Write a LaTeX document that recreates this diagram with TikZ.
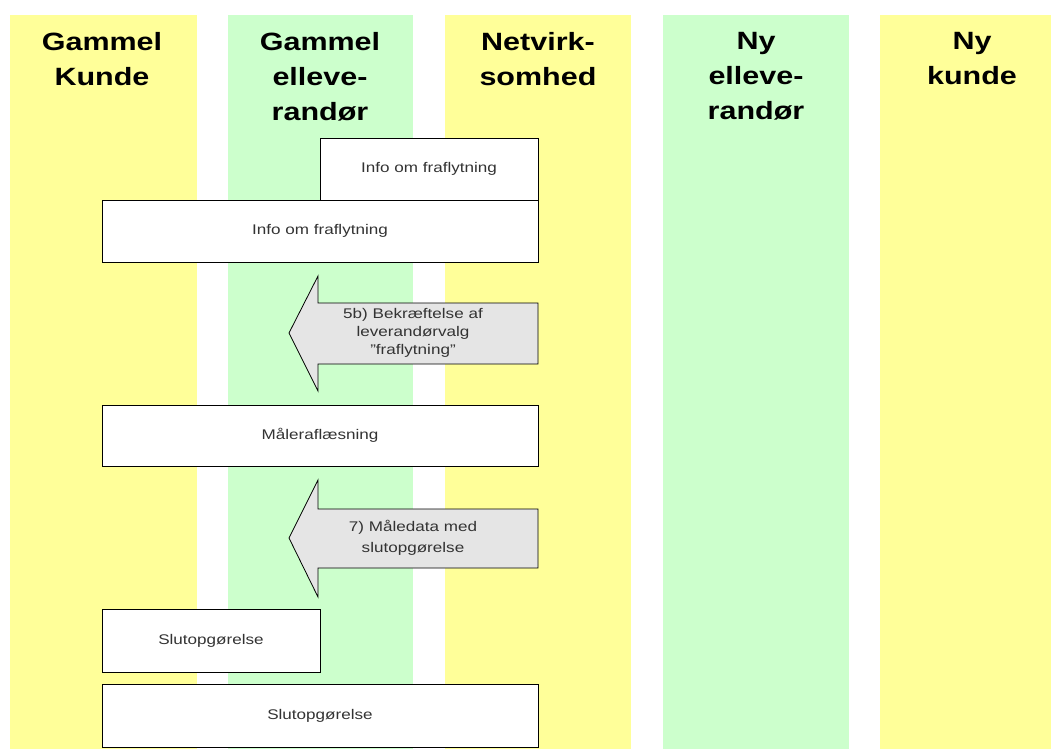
\documentclass[tikz,border=0pt]{standalone}
\usepackage{fontspec}
\setmainfont[FakeStretch=1.22]{Liberation Sans}
\begin{document}
\begin{tikzpicture}[x=1pt,y=-1pt,
  lane/.style={fill=#1,draw=none},
  head/.style={font=\bfseries\fontsize{25}{35}\selectfont,align=center,anchor=north,inner sep=0pt,text=black},
  msg/.style={draw=black,line width=0.8pt,fill=white,font=\fontsize{14}{17}\selectfont,text=black!80,inner sep=0pt},
  arr/.style={draw=black,line width=0.8pt,fill=black!10},
  arrtext/.style={font=\fontsize{14}{18}\selectfont,text=black!80,align=center,inner sep=0pt}]
\definecolor{lyellow}{HTML}{FFFF99}
\definecolor{lgreen}{HTML}{CCFFCC}
\useasboundingbox (0,0) rectangle (1051,749);
\fill[white] (0,0) rectangle (1051,749);
% lanes
\fill[lane=lyellow] (10,15) rectangle (197,749);
\fill[lane=lgreen] (228,15) rectangle (413,749);
\fill[lane=lyellow] (445,15) rectangle (631,749);
\fill[lane=lgreen] (663,15) rectangle (849,749);
\fill[lane=lyellow] (880,15) rectangle (1051,749);
% headings
\node[head] (h1) at (102,32) {Gammel\\Kunde};
\node[head] (h2) at (320,32) {Gammel\\elleve-\\randør};
\node[head] (h3) at (538,32) {Netvirk-\\somhed};
\node[head] (h4) at (756,32) {Ny\\elleve-\\randør};
\node[head] (h5) at (972,32) {Ny\\kunde};
% message boxes
\node[msg,minimum width=218pt,minimum height=62pt] (m1) at (429,169) {Info om fraflytning};
\node[msg,minimum width=436pt,minimum height=62pt] (m2) at (320,231) {Info om fraflytning};
% arrow 5b
\draw[arr] (538,303) -- (318,303) -- (318,276) -- (289,333) -- (318,391) -- (318,364) -- (538,364) -- cycle;
\node[arrtext] (a1) at (413,333) {5b) Bekræftelse af\\leverandørvalg\\"fraflytning"};
\node[msg,minimum width=436pt,minimum height=61pt] (m3) at (320,435.5) {Måleraflæsning};
% arrow 7
\draw[arr] (538,509) -- (318,509) -- (318,480) -- (289,538) -- (318,597) -- (318,568) -- (538,568) -- cycle;
\node[arrtext,font=\fontsize{14}{21}\selectfont] (a2) at (413,538) {7) Måledata med\\slutopgørelse};
\node[msg,minimum width=218pt,minimum height=63pt] (m4) at (211,640.5) {Slutopgørelse};
\node[msg,minimum width=436pt,minimum height=63pt] (m5) at (320,715.5) {Slutopgørelse};
\end{tikzpicture}
\end{document}
